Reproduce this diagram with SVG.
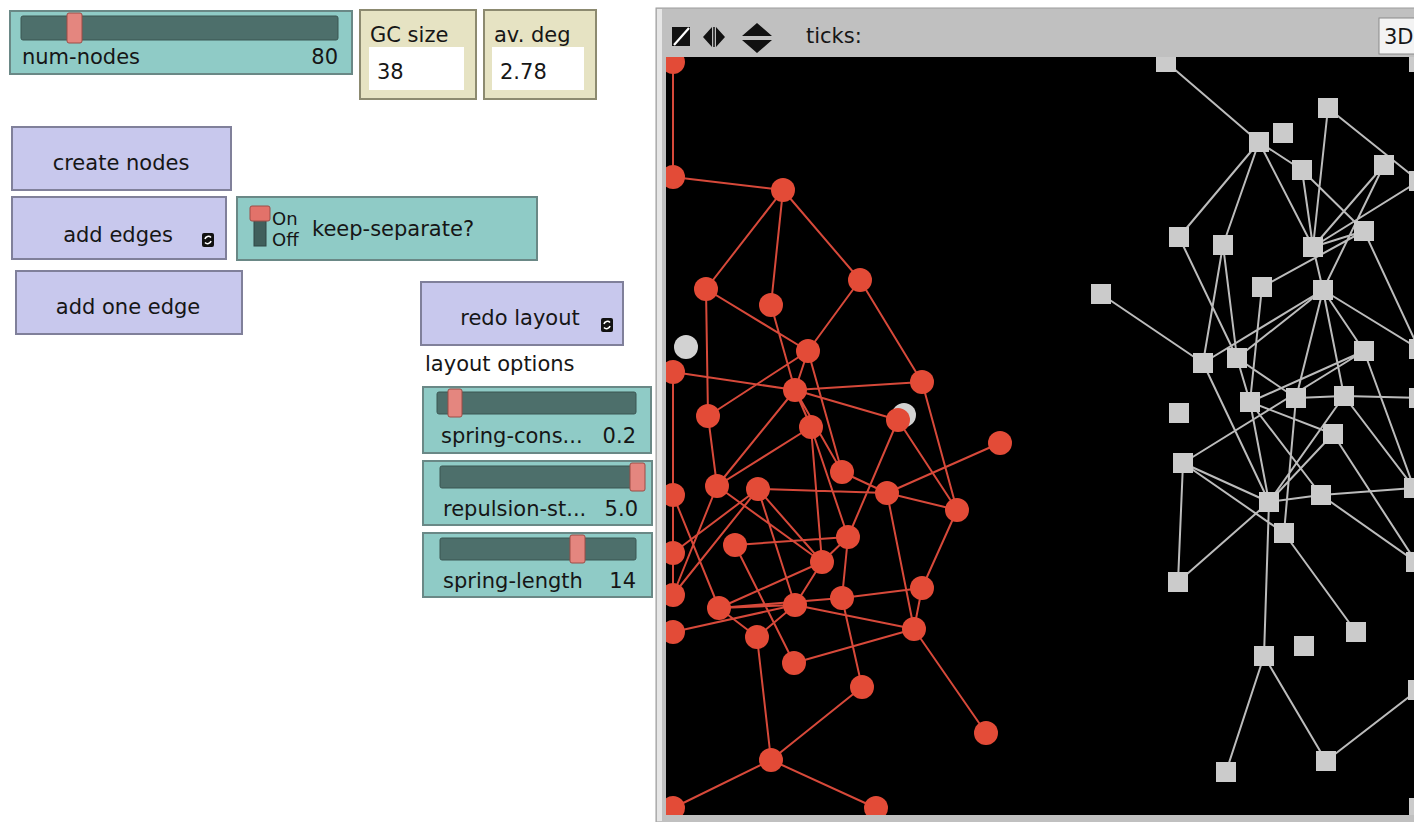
<svg xmlns="http://www.w3.org/2000/svg" width="1414" height="822" viewBox="0 0 1414 822">
  <style>
    text{font-family:"DejaVu Sans","Liberation Sans",sans-serif;font-size:21px;fill:#161616}
    .teal{fill:#8fcbc6;stroke:#6a8886;stroke-width:2}
    .lav{fill:#c8c8ed;stroke:#80809a;stroke-width:2}
    .mon{fill:#e6e3c3;stroke:#8c8a70;stroke-width:2}
    .field{fill:#ffffff}
    .track{fill:#4d6f6b;stroke:#3b5653;stroke-width:1}
    .handle{fill:#e4867f;stroke:#9c4c47;stroke-width:1}
    .re{stroke:#d7493a;stroke-width:2;fill:none}
    .ge{stroke:#bcbcbc;stroke-width:2;fill:none}
    .rn{fill:#e34b37}
    .gn{fill:#cbcbcb}
    .gc{fill:#d2d2d2}
  </style>
  <defs>
    <clipPath id="viewclip"><rect x="666" y="57" width="748" height="758"/></clipPath>
    <g id="forever">
      <rect x="0" y="0" width="12" height="14" rx="2" fill="#111"/>
      <path d="M3 6 A3.5 3.5 0 0 1 9 4.5 M9 8 A3.5 3.5 0 0 1 3 9.5" stroke="#fff" stroke-width="1.6" fill="none"/>
    </g>
  </defs>

  <rect width="1414" height="822" fill="#ffffff"/>

  <!-- interface widgets -->
  <g id="slider-num-nodes">
    <rect x="10" y="11" width="342" height="63" class="teal"/>
    <rect x="21" y="16" width="317" height="24" rx="2" class="track"/>
    <rect x="67" y="13" width="15" height="30" rx="2" class="handle"/>
    <text x="22" y="64">num-nodes</text>
    <text x="338" y="64" text-anchor="end">80</text>
  </g>

  <g id="monitor-gc-size">
    <rect x="360" y="10" width="116" height="89" class="mon"/>
    <rect x="369" y="47" width="95" height="43" class="field"/>
    <text x="370" y="42">GC size</text>
    <text x="377" y="79">38</text>
  </g>

  <g id="monitor-av-deg">
    <rect x="484" y="10" width="112" height="89" class="mon"/>
    <rect x="492" y="47" width="92" height="43" class="field"/>
    <text x="494" y="42">av. deg</text>
    <text x="500" y="79">2.78</text>
  </g>

  <g id="button-create-nodes">
    <rect x="12" y="127" width="219" height="63" class="lav"/>
    <text x="121" y="170" text-anchor="middle">create nodes</text>
  </g>

  <g id="button-add-edges">
    <rect x="12" y="197" width="214" height="62" class="lav"/>
    <text x="118" y="242" text-anchor="middle">add edges</text>
    <use href="#forever" x="202" y="233"/>
  </g>

  <g id="switch-keep-separate">
    <rect x="237" y="197" width="300" height="63" class="teal"/>
    <rect x="254" y="219" width="12" height="27" fill="#405f5c" stroke="#2f4644"/>
    <rect x="250" y="206" width="20" height="15" rx="2" fill="#e2726a" stroke="#9c4c47"/>
    <text x="272" y="225" style="font-size:18px">On</text>
    <text x="272" y="246" style="font-size:18px">Off</text>
    <text x="312" y="236">keep-separate?</text>
  </g>

  <g id="button-add-one-edge">
    <rect x="16" y="271" width="226" height="63" class="lav"/>
    <text x="128" y="314" text-anchor="middle">add one edge</text>
  </g>

  <g id="button-redo-layout">
    <rect x="421" y="282" width="202" height="63" class="lav"/>
    <text x="520" y="325" text-anchor="middle">redo layout</text>
    <use href="#forever" x="601" y="318"/>
  </g>

  <g id="note-layout-options">
    <text x="425" y="371">layout options</text>
  </g>

  <g id="slider-spring-constant">
    <rect x="423" y="387" width="228" height="66" class="teal"/>
    <rect x="437" y="392" width="199" height="22" rx="2" class="track"/>
    <rect x="448" y="389" width="14" height="28" rx="2" class="handle"/>
    <text x="441" y="443">spring-cons...</text>
    <text x="636" y="443" text-anchor="end">0.2</text>
  </g>

  <g id="slider-repulsion-strength">
    <rect x="423" y="461" width="229" height="64" class="teal"/>
    <rect x="440" y="466" width="204" height="22" rx="2" class="track"/>
    <rect x="630" y="463" width="15" height="28" rx="2" class="handle"/>
    <text x="443" y="516">repulsion-st...</text>
    <text x="638" y="516" text-anchor="end">5.0</text>
  </g>

  <g id="slider-spring-length">
    <rect x="423" y="533" width="229" height="64" class="teal"/>
    <rect x="440" y="538" width="196" height="22" rx="2" class="track"/>
    <rect x="570" y="535" width="15" height="28" rx="2" class="handle"/>
    <text x="443" y="588">spring-length</text>
    <text x="636" y="588" text-anchor="end">14</text>
  </g>

  <!-- world view frame -->
  <g id="view-frame">
    <rect x="656" y="8" width="762" height="818" fill="#c0c0c0" stroke="#9c9c9c" stroke-width="1"/>
    <rect x="657" y="9" width="5" height="812" fill="#e6e6e6"/>
    <rect x="666" y="57" width="748" height="758" fill="#000000"/>
    <!-- header controls -->
    <rect x="672" y="27" width="18" height="19" fill="#111"/>
    <path d="M674 45 L689 28" stroke="#fff" stroke-width="2.2"/>
    <path d="M712 27 L703 37 L712 47 Z M716 27 L725 37 L716 47 Z" fill="#111"/>
    <path d="M714 27 L714 47" stroke="#111" stroke-width="1.5"/>
    <path d="M742 36 L757 23 L772 36 Z M742 40 L757 53 L772 40 Z" fill="#111"/>
    <text x="806" y="43">ticks:</text>
    <rect x="1379" y="18" width="42" height="36" fill="#f3f3f3" stroke="#8a8a8a"/>
    <text x="1384" y="44">3D</text>
  </g>

  <g clip-path="url(#viewclip)">
    <!-- links -->
    <g id="links">
      <g id="links-red">
        <path class="re" d="M673 62L673 177 M673 177L783 190 M783 190L706 289 M783 190L771 305 M783 190L860 280 M706 289L708 416 M706 289L808 351 M860 280L808 351 M860 280L922 382 M771 305L795 390 M808 351L708 416 M808 351L795 390 M808 351L842 472 M673 372L795 390 M795 390L922 382 M795 390L898 420 M795 390L811 427 M795 390L717 486 M795 390L842 472 M673 372L673 495 M922 382L957 510 M708 416L717 486 M811 427L717 486 M811 427L822 562 M811 427L848 537 M898 420L848 537 M898 420L957 510 M1000 443L887 493 M842 472L887 493 M758 489L887 493 M887 493L957 510 M887 493L914 629 M957 510L922 588 M922 588L914 629 M842 598L922 588 M795 605L914 629 M914 629L794 663 M914 629L986 733 M848 537L842 598 M848 537L735 545 M848 537L822 562 M717 486L822 562 M758 489L822 562 M822 562L795 605 M822 562L719 608 M842 598L862 687 M735 545L794 663 M719 608L795 605 M719 608L842 598 M673 632L795 605 M795 605L757 637 M719 608L757 637 M758 489L795 605 M673 495L719 608 M673 495L673 553 M673 553L673 595 M673 553L758 489 M673 595L758 489 M673 595L717 486 M757 637L771 760 M862 687L771 760 M771 760L673 808 M771 760L876 808"/>
      </g>
      <g id="links-grey">
        <path class="ge" d="M1166 62L1259 142 M1259 142L1179 237 M1259 142L1223 245 M1259 142L1313 247 M1259 142L1302 170 M1302 170L1313 247 M1302 170L1364 231 M1328 108L1313 247 M1328 108L1419 181 M1384 165L1313 247 M1384 165L1323 290 M1364 231L1313 247 M1364 231L1262 287 M1313 247L1419 181 M1364 231L1419 349 M1179 237L1237 358 M1223 245L1203 363 M1223 245L1237 358 M1313 247L1323 290 M1323 290L1203 363 M1323 290L1237 358 M1323 290L1364 351 M1323 290L1419 349 M1323 290L1296 398 M1323 290L1344 396 M1101 294L1203 363 M1262 287L1250 402 M1203 363L1269 502 M1237 358L1250 402 M1237 358L1296 398 M1364 351L1250 402 M1364 351L1414 488 M1250 402L1269 502 M1250 402L1321 495 M1250 402L1333 434 M1296 398L1344 396 M1344 396L1419 398 M1296 398L1284 533 M1183 463L1364 351 M1183 463L1269 502 M1183 463L1284 533 M1183 463L1178 582 M1269 502L1178 582 M1269 502L1264 656 M1269 502L1321 495 M1269 502L1333 434 M1269 502L1344 396 M1321 495L1414 488 M1321 495L1416 562 M1344 396L1414 488 M1333 434L1416 562 M1284 533L1356 632 M1264 656L1226 772 M1264 656L1326 761 M1326 761L1418 690 M1416 562L1418 690"/>
      </g>
    </g>

    <!-- unlinked turtles -->
    <g id="t-free-1"><circle cx="686" cy="347" r="12" class="gc"/></g>
    <g id="t-free-2"><circle cx="904" cy="415" r="12" class="gc"/></g>

    <!-- red component -->
    <g id="r1"><circle cx="673" cy="62" r="12" class="rn"/></g>
    <g id="r2"><circle cx="673" cy="177" r="12" class="rn"/></g>
    <g id="r3"><circle cx="783" cy="190" r="12" class="rn"/></g>
    <g id="r4"><circle cx="706" cy="289" r="12" class="rn"/></g>
    <g id="r5"><circle cx="771" cy="305" r="12" class="rn"/></g>
    <g id="r6"><circle cx="860" cy="280" r="12" class="rn"/></g>
    <g id="r7"><circle cx="808" cy="351" r="12" class="rn"/></g>
    <g id="r8"><circle cx="673" cy="372" r="12" class="rn"/></g>
    <g id="r9"><circle cx="795" cy="390" r="12" class="rn"/></g>
    <g id="r10"><circle cx="922" cy="382" r="12" class="rn"/></g>
    <g id="r11"><circle cx="708" cy="416" r="12" class="rn"/></g>
    <g id="r12"><circle cx="898" cy="420" r="12" class="rn"/></g>
    <g id="r13"><circle cx="811" cy="427" r="12" class="rn"/></g>
    <g id="r14"><circle cx="1000" cy="443" r="12" class="rn"/></g>
    <g id="r15"><circle cx="842" cy="472" r="12" class="rn"/></g>
    <g id="r16"><circle cx="673" cy="495" r="12" class="rn"/></g>
    <g id="r17"><circle cx="717" cy="486" r="12" class="rn"/></g>
    <g id="r18"><circle cx="758" cy="489" r="12" class="rn"/></g>
    <g id="r19"><circle cx="887" cy="493" r="12" class="rn"/></g>
    <g id="r20"><circle cx="957" cy="510" r="12" class="rn"/></g>
    <g id="r21"><circle cx="848" cy="537" r="12" class="rn"/></g>
    <g id="r22"><circle cx="673" cy="553" r="12" class="rn"/></g>
    <g id="r23"><circle cx="735" cy="545" r="12" class="rn"/></g>
    <g id="r24"><circle cx="822" cy="562" r="12" class="rn"/></g>
    <g id="r25"><circle cx="673" cy="595" r="12" class="rn"/></g>
    <g id="r26"><circle cx="719" cy="608" r="12" class="rn"/></g>
    <g id="r27"><circle cx="795" cy="605" r="12" class="rn"/></g>
    <g id="r28"><circle cx="842" cy="598" r="12" class="rn"/></g>
    <g id="r29"><circle cx="922" cy="588" r="12" class="rn"/></g>
    <g id="r30"><circle cx="673" cy="632" r="12" class="rn"/></g>
    <g id="r31"><circle cx="757" cy="637" r="12" class="rn"/></g>
    <g id="r32"><circle cx="914" cy="629" r="12" class="rn"/></g>
    <g id="r33"><circle cx="794" cy="663" r="12" class="rn"/></g>
    <g id="r34"><circle cx="862" cy="687" r="12" class="rn"/></g>
    <g id="r35"><circle cx="986" cy="733" r="12" class="rn"/></g>
    <g id="r36"><circle cx="771" cy="760" r="12" class="rn"/></g>
    <g id="r37"><circle cx="673" cy="808" r="12" class="rn"/></g>
    <g id="r38"><circle cx="876" cy="808" r="12" class="rn"/></g>

    <!-- grey turtles (square shape), positioned by centre -->
    <g id="g1"><rect x="1156" y="52" width="20" height="20" class="gn"/></g>
    <g id="g2"><rect x="1318" y="98" width="20" height="20" class="gn"/></g>
    <g id="g3"><rect x="1249" y="132" width="20" height="20" class="gn"/></g>
    <g id="g4"><rect x="1273" y="123" width="20" height="20" class="gn"/></g>
    <g id="g5"><rect x="1292" y="160" width="20" height="20" class="gn"/></g>
    <g id="g6"><rect x="1374" y="155" width="20" height="20" class="gn"/></g>
    <g id="g7"><rect x="1409" y="171" width="20" height="20" class="gn"/></g>
    <g id="g8"><rect x="1354" y="221" width="20" height="20" class="gn"/></g>
    <g id="g9"><rect x="1169" y="227" width="20" height="20" class="gn"/></g>
    <g id="g10"><rect x="1213" y="235" width="20" height="20" class="gn"/></g>
    <g id="g11"><rect x="1303" y="237" width="20" height="20" class="gn"/></g>
    <g id="g12"><rect x="1252" y="277" width="20" height="20" class="gn"/></g>
    <g id="g13"><rect x="1313" y="280" width="20" height="20" class="gn"/></g>
    <g id="g14"><rect x="1091" y="284" width="20" height="20" class="gn"/></g>
    <g id="g15"><rect x="1193" y="353" width="20" height="20" class="gn"/></g>
    <g id="g16"><rect x="1227" y="348" width="20" height="20" class="gn"/></g>
    <g id="g17"><rect x="1354" y="341" width="20" height="20" class="gn"/></g>
    <g id="g18"><rect x="1409" y="339" width="20" height="20" class="gn"/></g>
    <g id="g19"><rect x="1240" y="392" width="20" height="20" class="gn"/></g>
    <g id="g20"><rect x="1286" y="388" width="20" height="20" class="gn"/></g>
    <g id="g21"><rect x="1334" y="386" width="20" height="20" class="gn"/></g>
    <g id="g22"><rect x="1169" y="403" width="20" height="20" class="gn"/></g>
    <g id="g23"><rect x="1323" y="424" width="20" height="20" class="gn"/></g>
    <g id="g24"><rect x="1173" y="453" width="20" height="20" class="gn"/></g>
    <g id="g25"><rect x="1259" y="492" width="20" height="20" class="gn"/></g>
    <g id="g26"><rect x="1311" y="485" width="20" height="20" class="gn"/></g>
    <g id="g27"><rect x="1404" y="478" width="20" height="20" class="gn"/></g>
    <g id="g28"><rect x="1406" y="552" width="20" height="20" class="gn"/></g>
    <g id="g29"><rect x="1274" y="523" width="20" height="20" class="gn"/></g>
    <g id="g30"><rect x="1168" y="572" width="20" height="20" class="gn"/></g>
    <g id="g31"><rect x="1346" y="622" width="20" height="20" class="gn"/></g>
    <g id="g32"><rect x="1294" y="636" width="20" height="20" class="gn"/></g>
    <g id="g33"><rect x="1254" y="646" width="20" height="20" class="gn"/></g>
    <g id="g34"><rect x="1408" y="680" width="20" height="20" class="gn"/></g>
    <g id="g35"><rect x="1216" y="762" width="20" height="20" class="gn"/></g>
    <g id="g36"><rect x="1316" y="751" width="20" height="20" class="gn"/></g>
    <g id="g37"><rect x="1409" y="798" width="20" height="20" class="gn"/></g>
    <g id="g38"><rect x="1409" y="388" width="20" height="20" class="gn"/></g>
    <g id="g39"><rect x="1409" y="52" width="20" height="20" class="gn"/></g>
  </g>
</svg>
